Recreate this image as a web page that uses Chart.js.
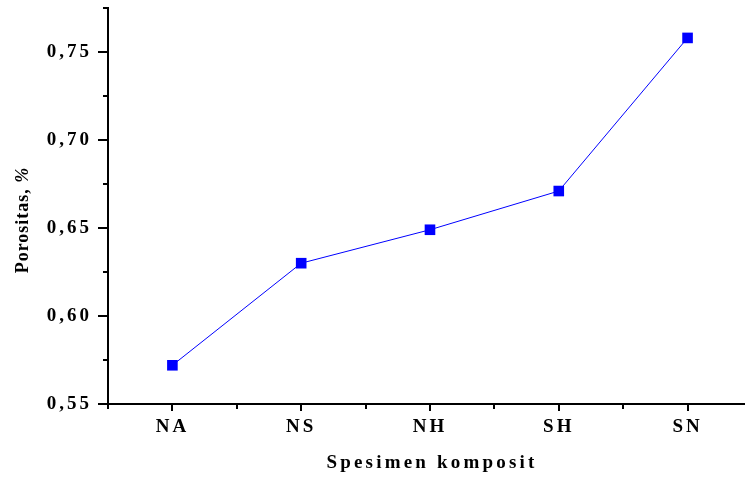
<!DOCTYPE html>
<html>
<head>
<meta charset="utf-8">
<script src="https://cdn.jsdelivr.net/npm/chart.js@4.4.1/dist/chart.umd.min.js"></script>
<style>
  body { margin: 0; background: #fff; overflow: hidden; }
  canvas { display: block; }
</style>
</head>
<body>
<canvas id="porositasChart" width="745" height="477"></canvas>
<script>
// data
const categories = ['NA', 'NS', 'NH', 'SH', 'SN'];
const porositas = [0.572, 0.630, 0.649, 0.671, 0.758];
const yTicks = [0.55, 0.60, 0.65, 0.70, 0.75];

const tickFont = { family: 'Liberation Serif', size: 19, weight: 'bold' };

// ticks + axis titles drawn by hand so major/minor lengths differ like the original
const axisDecor = {
  id: 'axisDecor',
  beforeDraw(chart) {
    chart.ctx.letterSpacing = '3px';
  },
  afterDraw(chart) {
    const ctx = chart.ctx;
    const xs = chart.scales.x;
    const ys = chart.scales.y;
    const area = chart.chartArea;
    ctx.save();
    ctx.strokeStyle = '#000';
    ctx.lineWidth = 2;
    ctx.beginPath();
    // y axis: major ticks out, minor ticks shorter
    yTicks.forEach(v => {
      const py = Math.round(ys.getPixelForValue(v));
      ctx.moveTo(area.left - 10, py);
      ctx.lineTo(area.left, py);
      const pm = Math.round(ys.getPixelForValue(v + 0.025));
      ctx.moveTo(area.left - 5, pm);
      ctx.lineTo(area.left, pm);
    });
    // x axis: category ticks + midway ticks
    categories.forEach((c, i) => {
      const px = Math.round(xs.getPixelForValue(i));
      ctx.moveTo(px, area.bottom);
      ctx.lineTo(px, area.bottom + 7);
      const pm = Math.round(xs.getPixelForValue(i - 0.5));
      ctx.moveTo(pm, area.bottom);
      ctx.lineTo(pm, area.bottom + 5);
    });
    ctx.stroke();

    ctx.fillStyle = '#000';
    ctx.letterSpacing = '3.2px';
    ctx.font = 'bold 19px "Liberation Serif"';
    ctx.textAlign = 'center';
    ctx.textBaseline = 'alphabetic';
    ctx.fillText('Spesimen komposit', (area.left + xs.getPixelForValue(4.5)) / 2 + 2, 468);

    ctx.letterSpacing = '1px';
    ctx.translate(28, 220);
    ctx.rotate(-Math.PI / 2);
    ctx.textAlign = 'left';
    const t1 = 'Porositas, ';
    ctx.font = 'bold 18px "Liberation Serif"';
    const w1 = ctx.measureText(t1).width;
    ctx.font = 'bold italic 18px "Liberation Serif"';
    const w2 = ctx.measureText('%').width;
    ctx.font = 'bold 18px "Liberation Serif"';
    ctx.fillText(t1, -(w1 + w2) / 2, 0);
    ctx.font = 'bold italic 18px "Liberation Serif"';
    ctx.fillText('%', -(w1 + w2) / 2 + w1, 0);
    ctx.restore();
  }
};

new Chart(document.getElementById('porositasChart'), {
  type: 'line',
  data: {
    datasets: [{
      label: 'Porositas',
      data: porositas.map((v, i) => ({ x: i, y: v })),
      borderColor: '#0000ff',
      borderWidth: 1,
      backgroundColor: '#0000ff',
      pointStyle: 'rect',
      pointRadius: 7.5,
      pointBorderWidth: 0,
      tension: 0
    }]
  },
  options: {
    responsive: false,
    devicePixelRatio: 1,
    animation: false,
    layout: { autoPadding: false, padding: { top: 8, left: 0, right: 0, bottom: 0 } },
    plugins: { legend: { display: false }, tooltip: { enabled: false } },
    scales: {
      x: {
        type: 'linear',
        min: -0.5,
        max: 4.446,
        afterBuildTicks: s => { s.ticks = categories.map((c, i) => ({ value: i })); },
        afterFit: s => { s.height = 73; s.paddingLeft = 0; s.paddingRight = 0; },
        grid: { drawOnChartArea: false, tickLength: 6, tickColor: 'transparent' },
        border: { color: '#000', width: 2 },
        ticks: {
          color: '#000',
          font: tickFont,
          padding: 6,
          maxRotation: 0,
          callback: v => categories[v]
        }
      },
      y: {
        min: 0.55,
        max: 0.775,
        afterBuildTicks: s => { s.ticks = yTicks.map(v => ({ value: v })); },
        afterFit: s => { s.width = 108; s.paddingTop = 0; s.paddingBottom = 0; },
        grid: { drawOnChartArea: false, tickLength: 10, tickColor: 'transparent' },
        border: { color: '#000', width: 2 },
        ticks: {
          color: '#000',
          font: tickFont,
          padding: 6,
          callback: v => v.toFixed(2).replace('.', ',')
        }
      }
    }
  },
  plugins: [axisDecor]
});
</script>
</body>
</html>
